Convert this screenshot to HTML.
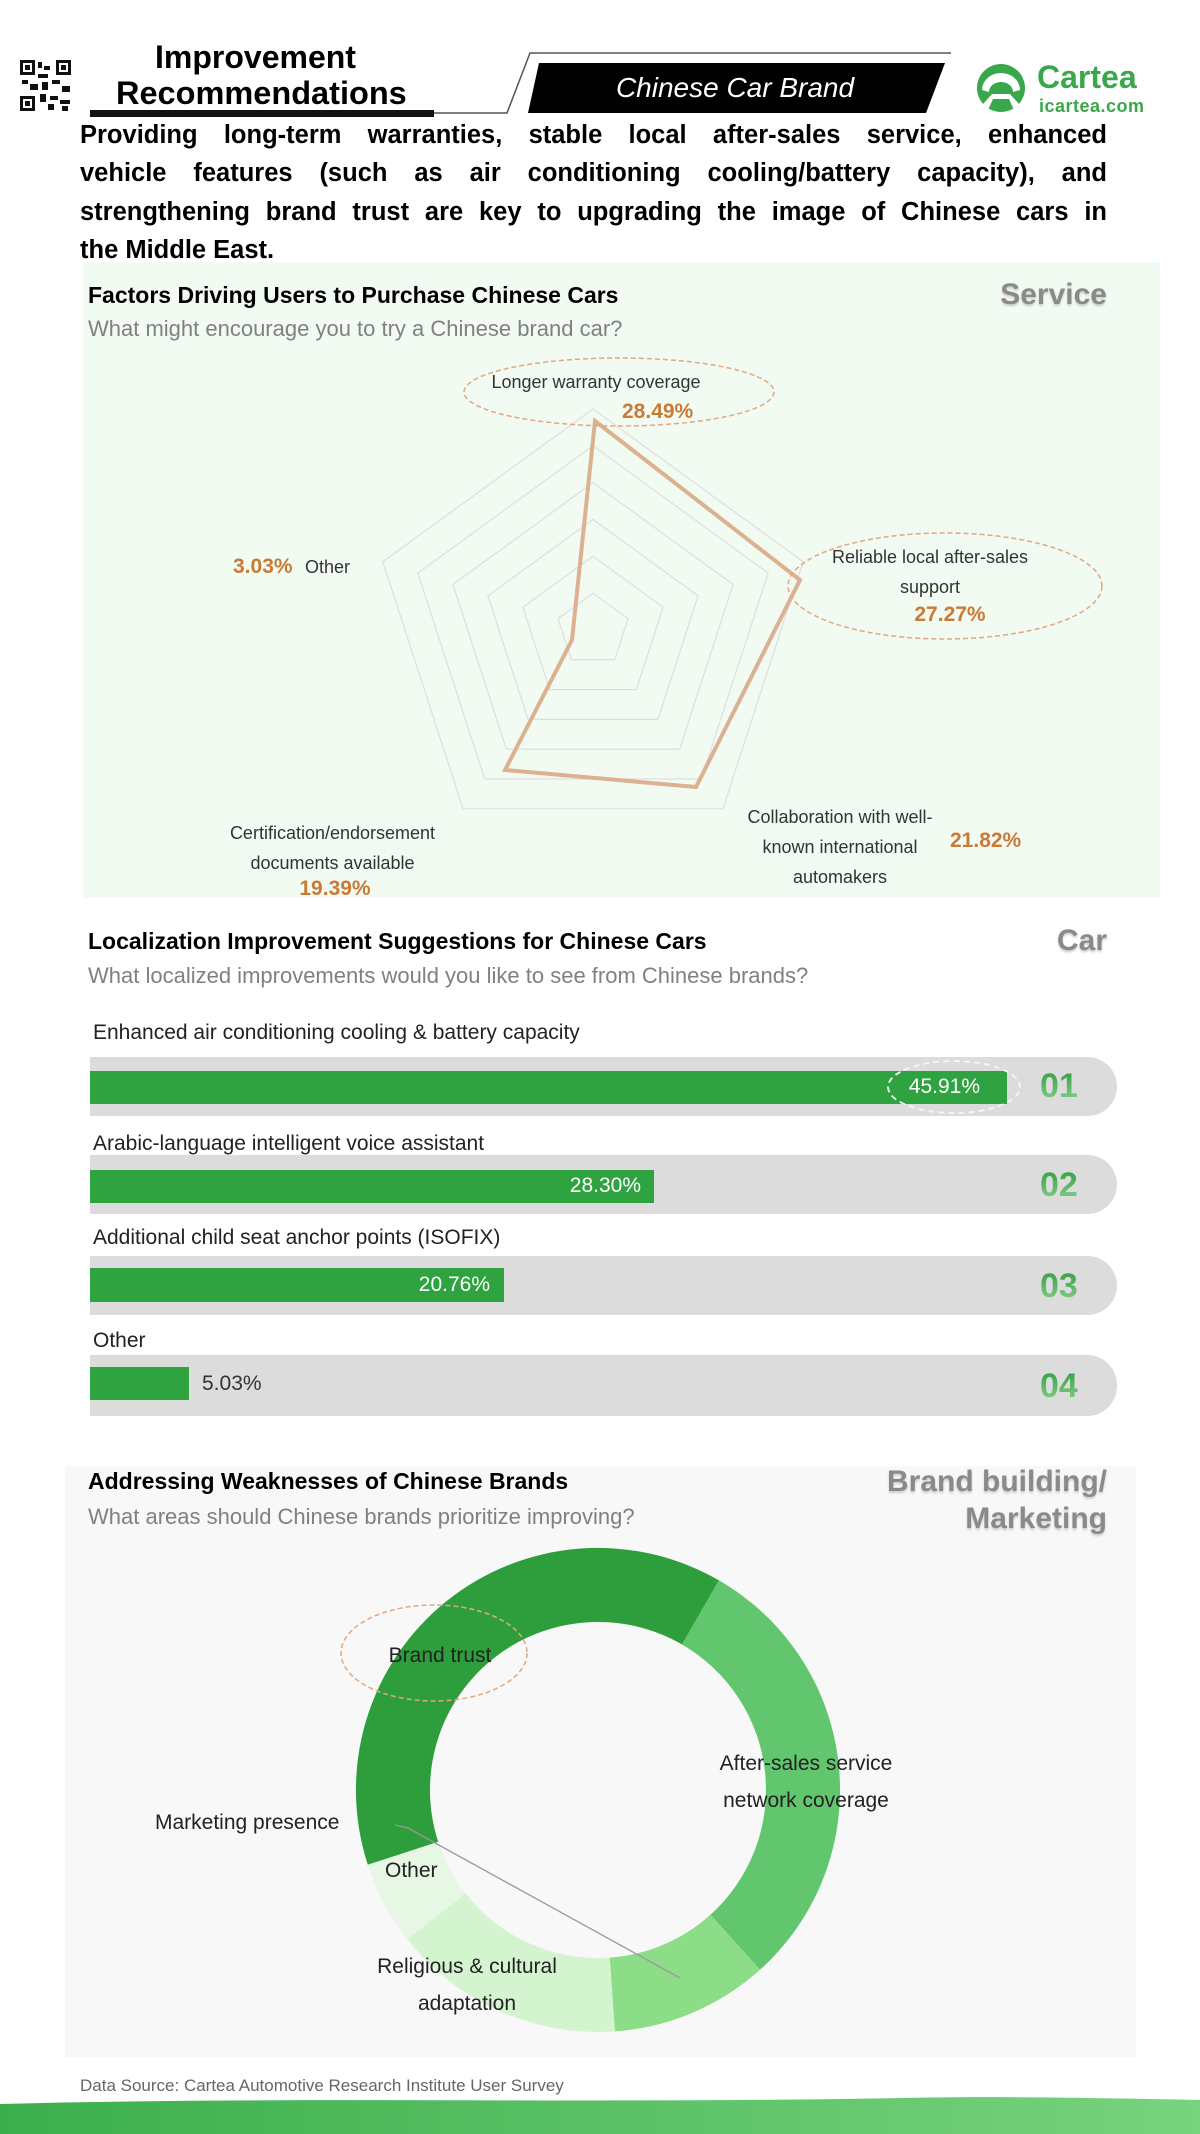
<!DOCTYPE html>
<html><head><meta charset="utf-8"><style>
*{margin:0;padding:0;box-sizing:border-box}
body{width:1200px;height:2134px;position:relative;background:#fff;font-family:"Liberation Sans",sans-serif;overflow:hidden}
.a{position:absolute;white-space:nowrap}
.p{position:absolute;left:80px;width:1027px;font-weight:bold;font-size:25.5px;text-align:justify;text-align-last:justify;color:#000;line-height:32px;height:32px;overflow:hidden}
.t{position:absolute;font-weight:bold;font-size:23px;color:#000;line-height:30px}
.s{position:absolute;font-size:22px;color:#808080;line-height:30px}
.r{position:absolute;right:93px;font-weight:bold;font-size:30px;color:#8a8a8a;line-height:36px;text-align:right;text-shadow:0 2px 2px #ccc}
.bl{position:absolute;left:93px;font-size:21px;color:#222;line-height:28px}
.tr{position:absolute;left:90px;width:1027px;background:#dcdcdc;border-radius:0 30px 30px 0}
.g{position:absolute;left:90px;background:#2ea33f}
.pv{position:absolute;color:#fff;font-size:21px;line-height:34px;text-align:right}
.n{position:absolute;left:1040px;font-weight:bold;font-size:34px;line-height:40px;color:#3aa64a;background:linear-gradient(#279a36,#8fd494);-webkit-background-clip:text;background-clip:text;-webkit-text-fill-color:transparent}
</style></head><body>
<svg class="a" style="left:0;top:0" width="1200" height="2134">
 <rect x="20" y="60" width="51" height="51" fill="#fff"/>
 <g fill="#111">
  <rect x="20" y="60" width="15" height="15"/><rect x="56" y="60" width="15" height="15"/><rect x="20" y="96" width="15" height="15"/>
  <rect x="38" y="62" width="4" height="6"/><rect x="44" y="66" width="6" height="4"/><rect x="38" y="74" width="10" height="4"/><rect x="22" y="80" width="6" height="4"/><rect x="30" y="84" width="8" height="6"/><rect x="42" y="82" width="6" height="8"/><rect x="52" y="80" width="8" height="4"/><rect x="62" y="86" width="8" height="6"/><rect x="40" y="94" width="6" height="8"/><rect x="50" y="96" width="8" height="4"/><rect x="60" y="100" width="10" height="4"/><rect x="48" y="104" width="6" height="6"/><rect x="62" y="106" width="6" height="5"/>
 </g>
 <g fill="#fff"><rect x="23" y="63" width="9" height="9"/><rect x="59" y="63" width="9" height="9"/><rect x="23" y="99" width="9" height="9"/></g>
 <g fill="#111"><rect x="25" y="65" width="5" height="5"/><rect x="61" y="65" width="5" height="5"/><rect x="25" y="101" width="5" height="5"/></g>
 <rect x="90" y="110" width="344" height="7" fill="#111"/>
 <polyline points="434,113 507,113 530,53 951,53" fill="none" stroke="#555" stroke-width="1.5"/>
 <polygon points="539,63 945,63 926,113 528,113" fill="#000"/>
 <circle cx="1001" cy="88" r="24" fill="#38a84a"/>
 <path d="M982,90 A19,17 0 0 1 1020,90 L1013,92 A12,10 0 0 0 989,92 Z" fill="#fff"/>
 <path d="M988,110 L993,99 L1009,99 L1014,110 A24,24 0 0 0 1019,104 L1010,94 L992,94 L983,104 A24,24 0 0 0 988,110Z" fill="#fff"/>
 <rect x="83" y="262" width="1077" height="636" fill="#f2fbf2"/>
 <rect x="65" y="1466" width="1071" height="591" fill="#f8f8f8"/>
 <g transform="translate(593,630)" fill="none" stroke="#dedede" stroke-width="1.2">
  <polygon vector-effect="non-scaling-stroke" transform="scale(36.8)" points="0,-1 .951,-.309 .588,.809 -.588,.809 -.951,-.309"/>
  <polygon vector-effect="non-scaling-stroke" transform="scale(73.7)" points="0,-1 .951,-.309 .588,.809 -.588,.809 -.951,-.309"/>
  <polygon vector-effect="non-scaling-stroke" transform="scale(110.5)" points="0,-1 .951,-.309 .588,.809 -.588,.809 -.951,-.309"/>
  <polygon vector-effect="non-scaling-stroke" transform="scale(147.3)" points="0,-1 .951,-.309 .588,.809 -.588,.809 -.951,-.309"/>
  <polygon vector-effect="non-scaling-stroke" transform="scale(184.2)" points="0,-1 .951,-.309 .588,.809 -.588,.809 -.951,-.309"/>
  <polygon vector-effect="non-scaling-stroke" transform="scale(221)" points="0,-1 .951,-.309 .588,.809 -.588,.809 -.951,-.309"/>
 </g>
 <polygon points="595,421 800,580 696,787 505,770 572,640" fill="none" stroke="#dcb190" stroke-width="4"/>
 <ellipse cx="619" cy="392" rx="155" ry="34" fill="none" stroke="#e3a77f" stroke-width="1.5" stroke-dasharray="5,3"/>
 <ellipse cx="945" cy="586" rx="157" ry="53" fill="none" stroke="#e3a77f" stroke-width="1.5" stroke-dasharray="5,3"/>
 <path d="M367.8,1864.8 A242,242 0 0 1 719,1580.4 L682,1644.5 A168,168 0 0 0 438.2,1841.9 Z" fill="#2e9e3c"/>
 <path d="M719,1580.4 A242,242 0 0 1 760,1969.8 L710.4,1914.8 A168,168 0 0 0 682,1644.5 Z" fill="#62c66e"/>
 <path d="M760,1969.8 A242,242 0 0 1 614.9,2031.4 L609.7,1957.6 A168,168 0 0 0 710.4,1914.8 Z" fill="#8ddc88"/>
 <path d="M614.9,2031.4 A242,242 0 0 1 407.3,1939.1 L465.6,1893.5 A168,168 0 0 0 609.7,1957.6 Z" fill="#d4f4d0"/>
 <path d="M407.3,1939.1 A242,242 0 0 1 367.8,1864.8 L438.2,1841.9 A168,168 0 0 0 465.6,1893.5 Z" fill="#e6f8e4"/>
 <ellipse cx="434" cy="1653" rx="93" ry="48" fill="none" stroke="#e3a77f" stroke-width="1.5" stroke-dasharray="5,3"/>
 <polyline points="395,1825 408,1828 680,1978" fill="none" stroke="#999" stroke-width="1.3"/>
 <defs><linearGradient id="w" x1="0" x2="1"><stop offset="0" stop-color="#3bae4c"/><stop offset="1" stop-color="#78d37e"/></linearGradient></defs>
 <path d="M0,2104 C300,2096 600,2104 900,2098 C1000,2096 1100,2098 1200,2100 L1200,2134 L0,2134 Z" fill="url(#w)"/>
</svg>

<div class="a" style="left:155px;top:38px;font-weight:bold;font-size:32px;line-height:38px">Improvement</div>
<div class="a" style="left:116px;top:74px;font-weight:bold;font-size:32.5px;line-height:38px">Recommendations</div>
<div class="a" style="left:528px;top:70px;width:414px;text-align:center;color:#fff;font-style:italic;font-size:28px;line-height:36px">Chinese Car Brand</div>
<div class="a" style="left:1037px;top:58px;color:#3aa84a;font-weight:bold;font-size:32px;line-height:38px">Cartea</div>
<div class="a" style="left:1039px;top:95px;color:#3aa84a;font-weight:bold;font-size:18px;line-height:22px;letter-spacing:.5px">icartea.com</div>

<div class="p" style="top:119px">Providing long-term warranties, stable local after-sales service, enhanced</div>
<div class="p" style="top:157px">vehicle features (such as air conditioning cooling/battery capacity), and</div>
<div class="p" style="top:196px">strengthening brand trust are key to upgrading the image of Chinese cars in</div>
<div class="a" style="left:80px;top:234px;font-weight:bold;font-size:25.5px;line-height:32px">the Middle East.</div>

<div class="t" style="left:88px;top:280px">Factors Driving Users to Purchase Chinese Cars</div>
<div class="s" style="left:88px;top:314px">What might encourage you to try a Chinese brand car?</div>
<div class="r" style="top:277px">Service</div>
<div class="a" style="left:480px;top:372px;width:232px;text-align:center;font-size:18px;color:#333">Longer warranty coverage</div>
<div class="a" style="left:622px;top:400px;font-size:21px;font-weight:bold;color:#c97a35">28.49%</div>
<div class="a" style="left:800px;top:542px;width:260px;text-align:center;font-size:18px;color:#333;line-height:30px">Reliable local after-sales<br>support</div>
<div class="a" style="left:880px;top:603px;width:140px;text-align:center;font-size:21px;font-weight:bold;color:#c97a35">27.27%</div>
<div class="a" style="left:233px;top:555px;font-size:21px;font-weight:bold;color:#c97a35">3.03%</div>
<div class="a" style="left:305px;top:557px;font-size:18px;color:#333">Other</div>
<div class="a" style="left:200px;top:818px;width:265px;text-align:center;font-size:18px;color:#333;line-height:30px">Certification/endorsement<br>documents available</div>
<div class="a" style="left:280px;top:877px;width:110px;text-align:center;font-size:21px;font-weight:bold;color:#c97a35">19.39%</div>
<div class="a" style="left:720px;top:802px;width:240px;text-align:center;font-size:18px;color:#333;line-height:30px">Collaboration with well-<br>known international<br>automakers</div>
<div class="a" style="left:950px;top:829px;font-size:21px;font-weight:bold;color:#c97a35">21.82%</div>

<div class="t" style="left:88px;top:926px">Localization Improvement Suggestions for Chinese Cars</div>
<div class="s" style="left:88px;top:961px">What localized improvements would you like to see from Chinese brands?</div>
<div class="r" style="top:923px">Car</div>

<div class="bl" style="top:1019px">Enhanced air conditioning cooling &amp; battery capacity</div>
<div class="tr" style="top:1057px;height:59px"></div>
<div class="g" style="top:1071px;width:917px;height:33px"></div>
<div class="a" style="left:887px;top:1060px;width:134px;height:54px;border:2px dashed #f4f4f4;border-radius:50%"></div>
<div class="pv" style="left:880px;top:1070px;width:100px">45.91%</div>
<div class="n" style="top:1066px">01</div>

<div class="bl" style="top:1130px">Arabic-language intelligent voice assistant</div>
<div class="tr" style="top:1155px;height:59px"></div>
<div class="g" style="top:1170px;width:564px;height:33px"></div>
<div class="pv" style="left:500px;top:1169px;width:141px">28.30%</div>
<div class="n" style="top:1165px">02</div>

<div class="bl" style="top:1224px">Additional child seat anchor points (ISOFIX)</div>
<div class="tr" style="top:1256px;height:59px"></div>
<div class="g" style="top:1268px;width:414px;height:34px"></div>
<div class="pv" style="left:390px;top:1268px;width:100px">20.76%</div>
<div class="n" style="top:1266px">03</div>

<div class="bl" style="top:1327px">Other</div>
<div class="tr" style="top:1355px;height:61px"></div>
<div class="g" style="top:1367px;width:99px;height:33px"></div>
<div class="a" style="left:202px;top:1367px;font-size:21px;line-height:34px;color:#333">5.03%</div>
<div class="n" style="top:1366px">04</div>

<div class="t" style="left:88px;top:1466px">Addressing Weaknesses of Chinese Brands</div>
<div class="s" style="left:88px;top:1502px">What areas should Chinese brands prioritize improving?</div>
<div class="r" style="top:1463px;line-height:37px">Brand building/<br>Marketing</div>
<div class="a" style="left:380px;top:1644px;width:120px;text-align:center;font-size:21px;color:#222">Brand trust</div>
<div class="a" style="left:700px;top:1745px;width:212px;text-align:center;font-size:21px;color:#222;line-height:37px">After-sales service<br>network coverage</div>
<div class="a" style="left:155px;top:1811px;font-size:21px;color:#222">Marketing presence</div>
<div class="a" style="left:385px;top:1859px;font-size:21px;color:#222">Other</div>
<div class="a" style="left:350px;top:1948px;width:234px;text-align:center;font-size:21px;color:#222;line-height:37px">Religious &amp; cultural<br>adaptation</div>

<div class="a" style="left:80px;top:2076px;font-size:17px;color:#666">Data Source: Cartea Automotive Research Institute User Survey</div>
</body></html>
